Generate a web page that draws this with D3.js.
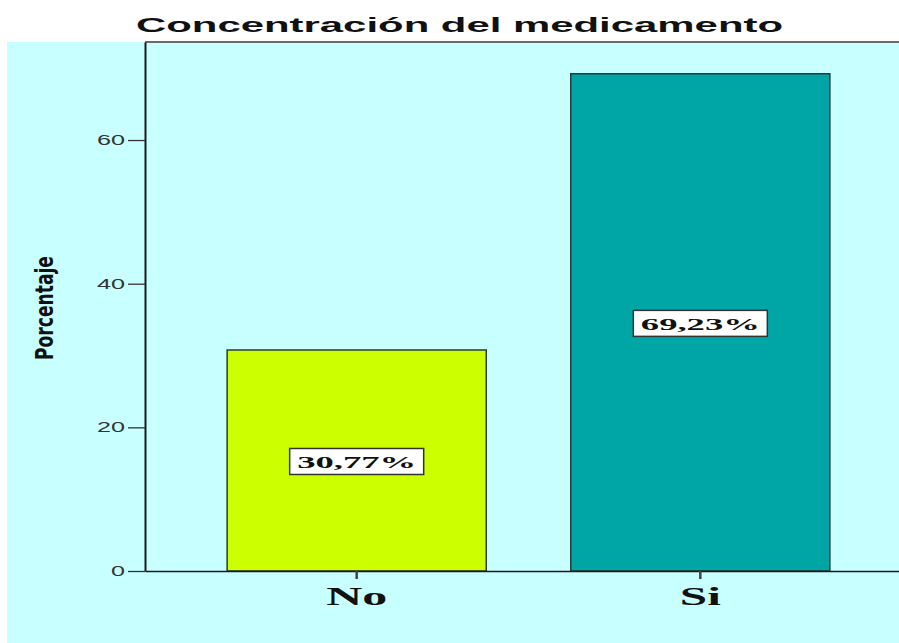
<!DOCTYPE html>
<html lang="es">
<head>
<meta charset="UTF-8">
<title>Concentración del medicamento</title>
<script src="https://d3js.org/d3.v7.min.js"></script>
<style>
html, body { margin: 0; padding: 0; background: #fff; }
svg { display: block; }
</style>
</head>
<body>
<script>
// data
const categories = ['No', 'Si'];
const percents = [30.77, 69.23];
const percentLabels = ['30,77%', '69,23%'];
const yTicks = [0, 20, 40, 60];

const w = 899, h = 643;
const plotLeft = 145, plotTop = 42, plotBottom = 571;
const colors = ['#ccff00', '#00a6a6'];

const svg = d3.select('body').append('svg').attr('width', w).attr('height', h);

// cyan panel
svg.append('rect').attr('x', 7).attr('y', plotTop).attr('width', w - 7).attr('height', h - plotTop)
    .attr('fill', '#c8ffff');

const x = d3.scaleBand().domain(categories).range([plotLeft, 912])
    .paddingInner(0.246).paddingOuter(0.239);
const y = d3.scaleLinear().domain([0, 73.65]).range([plotBottom, plotTop]);

// title
svg.append('text').attr('x', 459.5).attr('y', 32).attr('text-anchor', 'middle')
    .attr('font-family', 'Liberation Sans, Arial, sans-serif').attr('font-weight', 'bold')
    .attr('font-size', 21).attr('fill', '#111')
    .attr('textLength', 647).attr('lengthAdjust', 'spacingAndGlyphs')
    .text('Concentración del medicamento');

// top frame line
svg.append('line').attr('x1', plotLeft).attr('x2', w).attr('y1', plotTop).attr('y2', plotTop)
    .attr('stroke', '#6a6a6a').attr('stroke-width', 2);

// bars
svg.selectAll('rect.bar').data(categories).enter().append('rect').attr('class', 'bar')
    .attr('x', d => x(d)).attr('width', x.bandwidth())
    .attr('y', (d, i) => y(percents[i])).attr('height', (d, i) => plotBottom - y(percents[i]))
    .attr('fill', (d, i) => colors[i]).attr('stroke', '#2b3a3a').attr('stroke-width', 1.5);

// y axis
const yAxis = d3.axisLeft(y).tickValues(yTicks).tickSize(17).tickPadding(3).tickSizeOuter(0);
const gy = svg.append('g').attr('transform', 'translate(' + plotLeft + ',0)').call(yAxis);
gy.select('.domain').attr('stroke', '#1a1a1a').attr('stroke-width', 2);
gy.selectAll('.tick line').attr('stroke', '#333').attr('stroke-width', 1.3);
gy.selectAll('.tick text').attr('font-family', 'Liberation Sans, Arial, sans-serif')
    .attr('font-size', 14).attr('fill', '#333')
    .attr('textLength', d => String(d).length * 14).attr('lengthAdjust', 'spacingAndGlyphs');

// x axis
const xAxis = d3.axisBottom(x).tickSize(8).tickSizeOuter(0).tickPadding(10);
const gx = svg.append('g').attr('transform', 'translate(0,' + plotBottom + ')').call(xAxis);
gx.select('.domain').attr('stroke', '#1a1a1a').attr('stroke-width', 1.5);
gx.selectAll('.tick line').attr('stroke', '#444').attr('stroke-width', 2.5);
gx.selectAll('.tick text').attr('font-family', 'Liberation Serif, Times New Roman, serif')
    .attr('font-weight', 'bold').attr('font-size', 25).attr('fill', '#111')
    .attr('dy', null).attr('y', 34)
    .attr('textLength', d => d === 'No' ? 61 : 41).attr('lengthAdjust', 'spacingAndGlyphs');

// value labels
const lab = svg.selectAll('g.lab').data(categories).enter().append('g').attr('class', 'lab')
    .attr('transform', (d, i) => 'translate(' + (x(d) + x.bandwidth() / 2) + ',' +
        ((y(percents[i]) + plotBottom) / 2 + 1) + ')');
lab.append('rect').attr('x', -67).attr('y', -13).attr('width', 134).attr('height', 26)
    .attr('fill', '#fff').attr('stroke', '#333').attr('stroke-width', 1.5);
lab.append('text').attr('text-anchor', 'middle').attr('y', 7)
    .attr('font-family', 'Liberation Serif, Times New Roman, serif').attr('font-weight', 'bold')
    .attr('font-size', 16).attr('fill', '#111')
    .attr('textLength', 119).attr('lengthAdjust', 'spacingAndGlyphs')
    .text((d, i) => percentLabels[i]);

// y axis title
svg.append('text').attr('transform', 'translate(53,308) rotate(-90)')
    .attr('text-anchor', 'middle')
    .attr('font-family', 'Liberation Sans Narrow, DejaVu Sans Condensed, Arial Narrow, sans-serif')
    .attr('font-weight', 'bold').attr('font-size', 25).attr('fill', '#111')
    .attr('textLength', 104).attr('lengthAdjust', 'spacingAndGlyphs')
    .text('Porcentaje');
</script>
</body>
</html>
